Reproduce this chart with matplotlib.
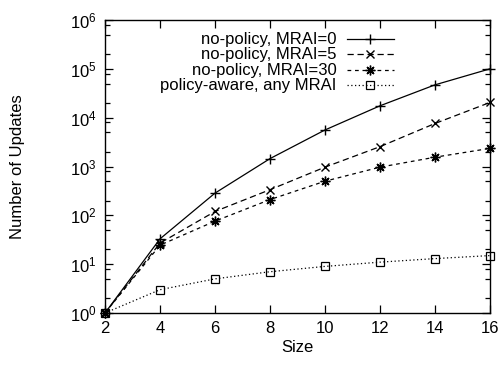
import matplotlib

matplotlib.use("Agg")
import matplotlib.pyplot as plt
from matplotlib.ticker import FixedLocator, LogLocator, NullFormatter

plt.rcParams["font.family"] = ["Liberation Sans", "DejaVu Sans"]
plt.rcParams["mathtext.fontset"] = "custom"
plt.rcParams["mathtext.rm"] = "Liberation Sans"
plt.rcParams["mathtext.it"] = "Liberation Sans"

# data (number of updates vs. topology size)
sizes = [2, 4, 6, 8, 10, 12, 14, 16]
mrai0 = [1, 33, 285, 1450, 5600, 17500, 47000, 100000]
mrai5 = [1, 27, 120, 335, 970, 2550, 7600, 20500]
mrai30 = [1, 24.5, 76, 210, 500, 970, 1550, 2350]
policy = [1, 3, 5, 7, 9, 11, 13, 15]

labels = ["no-policy, MRAI=0", "no-policy, MRAI=5",
          "no-policy, MRAI=30", "policy-aware, any MRAI"]
y_ticks = [1, 10, 100, 1000, 10000, 100000, 1000000]
x_ticks = [2, 4, 6, 8, 10, 12, 14, 16]

FS = 12

fig = plt.figure(figsize=(5.03, 3.65), dpi=100)
ax = fig.add_axes([105 / 503, 52 / 365, 385 / 503, 293 / 365])

styles = [
    dict(linestyle="-", marker="+", ms=7, mew=1.0),
    dict(linestyle=(0, (5, 3)), marker="x", ms=6, mew=1.0),
    dict(linestyle=(0, (3, 3)), marker=(8, 2, 0), ms=7, mew=1.0),
    dict(linestyle=(0, (1, 2)), marker="s", ms=6, mew=0.9, mfc="none"),
]
series = [mrai0, mrai5, mrai30, policy]

for ys, st in zip(series, styles):
    ax.plot(sizes, ys, color="black", lw=0.9, clip_on=False, **st)

ax.set_yscale("log")
ax.set_xlim(2, 16)
ax.set_ylim(1, 1e6)
ax.set_xticks(x_ticks)
ax.set_xticklabels([str(v) for v in x_ticks])
ax.yaxis.set_major_locator(FixedLocator(y_ticks))
ax.set_yticklabels([f"10$^{{{i}}}$" for i in range(len(y_ticks))])
ax.yaxis.set_minor_locator(LogLocator(base=10, subs=(2, 5, 8)))
ax.yaxis.set_minor_formatter(NullFormatter())

ax.tick_params(which="both", direction="in", top=True, right=True,
               labelsize=FS, width=0.9)
ax.tick_params(axis="y", pad=6)
ax.tick_params(axis="x", pad=6)
ax.tick_params(which="major", length=6)
ax.tick_params(which="minor", length=3.5)
for s in ax.spines.values():
    s.set_linewidth(1.0)

ax.set_xlabel("Size", fontsize=FS, labelpad=3)
ax.set_ylabel("Number of Updates", fontsize=FS, labelpad=32)

# gnuplot-style key: right-aligned labels followed by a line sample
key_y = [0.934, 0.883, 0.829, 0.777]
for lab, st, ky in zip(labels, styles, key_y):
    ax.text(0.601, ky, lab, transform=ax.transAxes, ha="right",
            va="center", fontsize=FS)
    ax.plot([0.628, 0.75], [ky, ky], transform=ax.transAxes,
            color="black", lw=0.9, **{k: v for k, v in st.items()
                                      if k not in ("marker", "ms", "mew", "mfc")})
    ax.plot([0.689], [ky], transform=ax.transAxes, color="black",
            linestyle="none", **{k: v for k, v in st.items() if k != "linestyle"})

fig.savefig("out.png", dpi=100)
